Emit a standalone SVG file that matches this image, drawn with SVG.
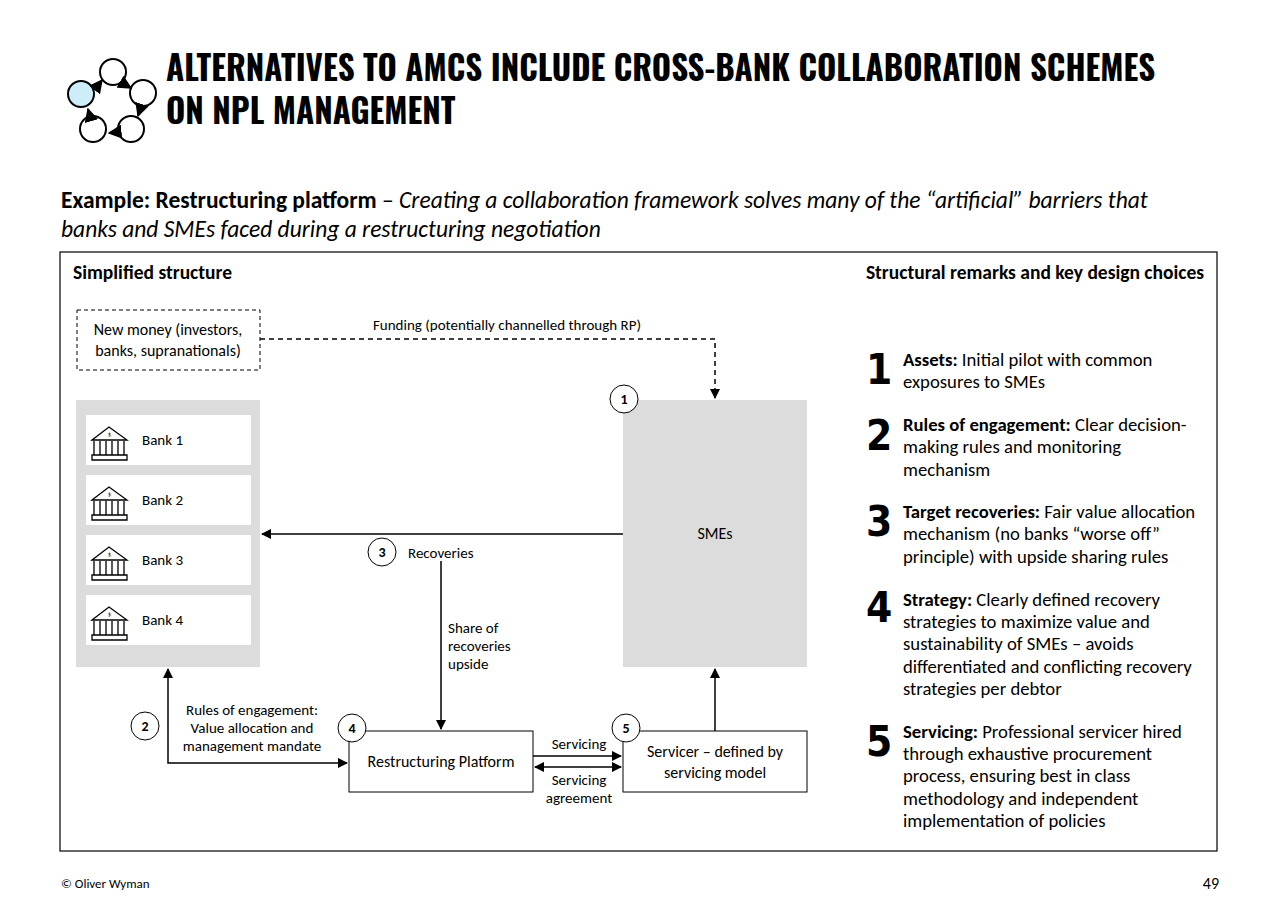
<svg xmlns="http://www.w3.org/2000/svg" width="1280" height="915" viewBox="0 0 1280 915">
<defs>
<style>
text{font-family:Carlito,Lato,"Liberation Sans",sans-serif;fill:#000}
.title{font-family:Oswald,"DejaVu Sans Condensed","Liberation Sans Narrow",sans-serif;font-weight:bold;font-size:33px}
.ln{stroke:#000;stroke-width:1.5;fill:none}
.box{fill:#fff;stroke:#000;stroke-width:1}
.num{font-family:"DejaVu Sans Condensed","Liberation Sans Narrow",sans-serif;font-weight:bold;font-size:42px}
.r{font-size:18.7px}
.ic{stroke:#000;stroke-width:1.3;fill:none}
</style>
<marker id="a" viewBox="0 0 10 10" refX="9" refY="5" markerWidth="7" markerHeight="7" orient="auto-start-reverse"><path d="M0,0L10,5L0,10z" fill="#000"/></marker>
<g id="bk"><path class="ic" d="M92,440 L109,427 L127,440 Z M94,441 V455 M100,441V455 M106,441V455 M112,441V455 M118,441V455 M124,441V455 M92,455H127V460H92Z"/><text x="108" y="436" font-size="6">$</text></g>
</defs>
<rect width="1280" height="915" fill="#fff"/>
<g id="logo" stroke="#000" stroke-width="2" fill="none">
<circle cx="113" cy="72" r="13"/><circle cx="143" cy="93" r="13"/><circle cx="131" cy="129" r="13"/><circle cx="93" cy="129" r="13"/><circle cx="81" cy="94" r="13" fill="#cdeef8"/>
<path d="M96,88 L102,80" marker-end="url(#a)"/><path d="M124,84 L131,88" marker-end="url(#a)"/><path d="M141,107 L138,116" marker-end="url(#a)"/><path d="M118,132 L109,133" marker-end="url(#a)"/><path d="M90,116 L88,109" marker-end="url(#a)"/>
</g>
<text class="title" x="166" y="81">ALTERNATIVES TO AMCS INCLUDE CROSS-BANK COLLABORATION SCHEMES</text>
<text class="title" x="166" y="124">ON NPL MANAGEMENT</text>
<text x="61" y="208" font-size="23.5"><tspan font-weight="bold">Example: Restructuring platform</tspan> – <tspan font-style="italic">Creating a collaboration framework solves many of the “artificial” barriers that</tspan></text>
<text x="61" y="237" font-size="23.5" font-style="italic">banks and SMEs faced during a restructuring negotiation</text>
<rect x="60" y="252" width="1157" height="599" fill="none" stroke="#000" stroke-width="1.2"/>
<text x="73" y="279" font-size="19.5" font-weight="bold">Simplified structure</text>
<text x="1204" y="279" font-size="19.5" font-weight="bold" text-anchor="end">Structural remarks and key design choices</text>
<g id="newmoney"><rect x="77" y="310" width="183" height="60" fill="#fff" stroke="#000" stroke-dasharray="4,3"/><text x="168" y="335" font-size="16" text-anchor="middle">New money (investors,</text><text x="168" y="356" font-size="16" text-anchor="middle">banks, supranationals)</text></g>
<g id="banks"><rect x="76" y="400" width="184" height="267" fill="#dcdcdc"/>
<rect x="86" y="415" width="165" height="50" fill="#fff"/><rect x="86" y="475" width="165" height="50" fill="#fff"/><rect x="86" y="535" width="165" height="50" fill="#fff"/><rect x="86" y="595" width="165" height="50" fill="#fff"/>
<use href="#bk"/><use href="#bk" y="60"/><use href="#bk" y="120"/><use href="#bk" y="180"/>
<text x="142" y="445" font-size="15">Bank 1</text><text x="142" y="505" font-size="15">Bank 2</text><text x="142" y="565" font-size="15">Bank 3</text><text x="142" y="625" font-size="15">Bank 4</text></g>
<g id="smes"><rect x="623" y="400" width="184" height="267" fill="#dcdcdc"/><text x="715" y="539" font-size="16" text-anchor="middle">SMEs</text></g>
<g id="rp"><rect x="349" y="731" width="184" height="61" class="box"/><text x="441" y="767" font-size="16" text-anchor="middle">Restructuring Platform</text></g>
<g id="servicer"><rect x="623" y="731" width="184" height="61" class="box"/><text x="715" y="757" font-size="16" text-anchor="middle">Servicer – defined by</text><text x="715" y="778" font-size="16" text-anchor="middle">servicing model</text></g>
<g id="connectors">
<path class="ln" d="M260,339 H715 V398" stroke-dasharray="5,4" marker-end="url(#a)"/>
<path class="ln" d="M623,534 H262" marker-end="url(#a)"/>
<path class="ln" d="M441,561 V729" marker-end="url(#a)"/>
<path class="ln" d="M168,669 V763 H347" marker-start="url(#a)" marker-end="url(#a)"/>
<path class="ln" d="M533,756 H621" marker-end="url(#a)"/>
<path class="ln" d="M535,767 H621" marker-start="url(#a)" marker-end="url(#a)"/>
<path class="ln" d="M715,731 V669" marker-end="url(#a)"/>
</g>
<g id="labels">
<text x="507" y="330" font-size="15" text-anchor="middle">Funding (potentially channelled through RP)</text>
<text x="408" y="558" font-size="15">Recoveries</text>
<text x="448" y="633" font-size="15">Share of</text><text x="448" y="651" font-size="15">recoveries</text><text x="448" y="669" font-size="15">upside</text>
<text x="252" y="715" font-size="15" text-anchor="middle">Rules of engagement:</text><text x="252" y="733" font-size="15" text-anchor="middle">Value allocation and</text><text x="252" y="751" font-size="15" text-anchor="middle">management mandate</text>
<text x="579" y="749" font-size="15" text-anchor="middle">Servicing</text>
<text x="579" y="785" font-size="15" text-anchor="middle">Servicing</text><text x="579" y="803" font-size="15" text-anchor="middle">agreement</text>
</g>
<g id="badges" font-size="14" font-weight="bold" text-anchor="middle">
<circle cx="624" cy="399" r="14" class="box" stroke-width="1.5"/><text x="624" y="404">1</text>
<circle cx="145" cy="726" r="14" class="box" stroke-width="1.5"/><text x="145" y="731">2</text>
<circle cx="382" cy="552" r="14" class="box" stroke-width="1.5"/><text x="382" y="557">3</text>
<circle cx="352" cy="728" r="14" class="box" stroke-width="1.5"/><text x="352" y="733">4</text>
<circle cx="626" cy="728" r="14" class="box" stroke-width="1.5"/><text x="626" y="733">5</text>
</g>
<g id="remarks">
<text class="num" x="866" y="384">1</text>
<text class="r" x="903" y="366"><tspan font-weight="bold">Assets:</tspan> Initial pilot with common</text><text class="r" x="903" y="388">exposures to SMEs</text>
<text class="num" x="866" y="450">2</text>
<text class="r" x="903" y="431"><tspan font-weight="bold">Rules of engagement:</tspan> Clear decision-</text><text class="r" x="903" y="453">making rules and monitoring</text><text class="r" x="903" y="476">mechanism</text>
<text class="num" x="866" y="536">3</text>
<text class="r" x="903" y="518"><tspan font-weight="bold">Target recoveries:</tspan> Fair value allocation</text><text class="r" x="903" y="540">mechanism (no banks “worse off”</text><text class="r" x="903" y="563">principle) with upside sharing rules</text>
<text class="num" x="866" y="622">4</text>
<text class="r" x="903" y="606"><tspan font-weight="bold">Strategy:</tspan> Clearly defined recovery</text><text class="r" x="903" y="628">strategies to maximize value and</text><text class="r" x="903" y="650">sustainability of SMEs – avoids</text><text class="r" x="903" y="673">differentiated and conflicting recovery</text><text class="r" x="903" y="695">strategies per debtor</text>
<text class="num" x="866" y="756">5</text>
<text class="r" x="903" y="738"><tspan font-weight="bold">Servicing:</tspan> Professional servicer hired</text><text class="r" x="903" y="760">through exhaustive procurement</text><text class="r" x="903" y="782">process, ensuring best in class</text><text class="r" x="903" y="805">methodology and independent</text><text class="r" x="903" y="827">implementation of policies</text>
</g>
<text x="61" y="888" font-size="13">© Oliver Wyman</text>
<text x="1219" y="889" font-size="16" text-anchor="end">49</text>
</svg>
